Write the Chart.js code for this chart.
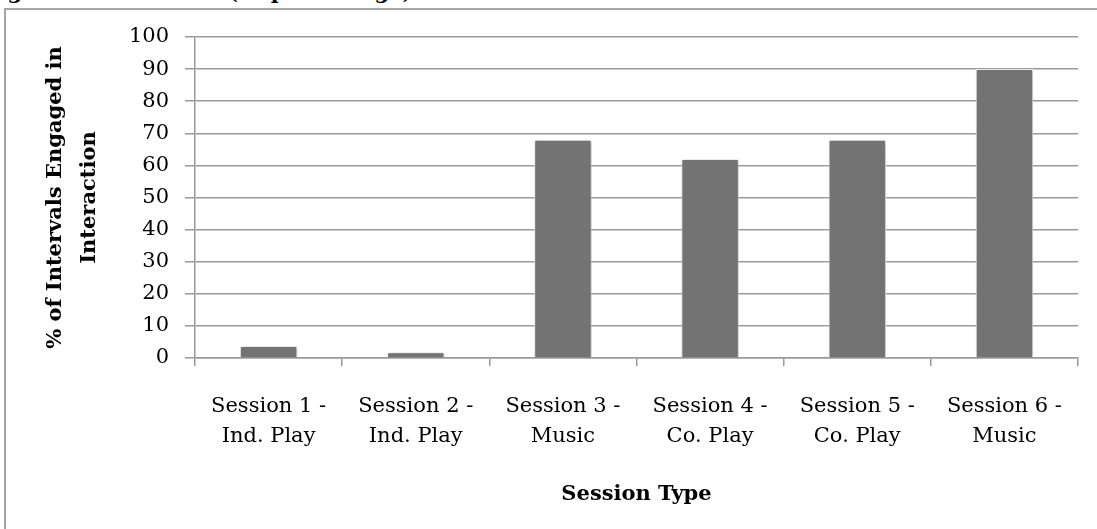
<!DOCTYPE html>
<html lang="en">
<head>
  <meta charset="UTF-8">
  <title>Intervals engaged in interaction</title>
  <style>
    html, body { margin: 0; padding: 0; background: #fff; overflow: hidden; }
    #marco {
      position: absolute; left: 4px; top: 8px;
      width: 1200px; height: 600px;
      border: 2px solid #a6a6a6; box-sizing: border-box;
    }
    #titulo {
      position: absolute; left: -52px; top: -20px; white-space: nowrap;
      font: bold 21px "DejaVu Serif", serif; color: #000; line-height: 24px;
    }
    #caja { position: absolute; left: 0; top: 0; width: 1097px; height: 529px; }
  </style>
</head>
<body>
  <div id="titulo">Engaged in Interaction (as percentage) across Sessions</div>
  <div id="marco"></div>
  <div id="caja"><canvas id="grafico"></canvas></div>

  <script src="https://cdn.jsdelivr.net/npm/chart.js"></script>
  <script>
    // datos del grafico
    const sesiones = [
      ["Session 1 -", "Ind. Play"],
      ["Session 2 -", "Ind. Play"],
      ["Session 3 -", "Music"],
      ["Session 4 -", "Co. Play"],
      ["Session 5 -", "Co. Play"],
      ["Session 6 -", "Music"]
    ];
    const porcentajes = [3.7, 1.8, 68, 62, 68, 90];
    const ticksY = [0, 10, 20, 30, 40, 50, 60, 70, 80, 90, 100];

    const fuente = "'DejaVu Serif', serif";

    // sombra suave de las barras
    const sombra = {
      id: 'sombra',
      beforeDatasetsDraw(chart) {
        const ctx = chart.ctx;
        ctx.save();
        ctx.shadowColor = 'rgba(0,0,0,0.35)';
        ctx.shadowBlur = 4;
        ctx.shadowOffsetX = 1;
        ctx.shadowOffsetY = 1;
      },
      afterDatasetsDraw(chart) {
        chart.ctx.restore();
      }
    };

    document.addEventListener("DOMContentLoaded", () => {
      const lienzo = document.getElementById("grafico");

      new Chart(lienzo, {
        type: 'bar',
        data: {
          labels: sesiones,
          datasets: [{
            label: '% of Intervals Engaged in Interaction',
            data: porcentajes,
            backgroundColor: '#737373',
            borderColor: '#ffffff',
            borderWidth: 1,
            categoryPercentage: 1,
            barPercentage: 0.39
          }]
        },
        options: {
          responsive: true,
          maintainAspectRatio: false,
          animation: false,
          layout: { padding: { left: 38, right: 19, top: 37, bottom: 0 } },
          plugins: {
            legend: { display: false },
            tooltip: { enabled: false }
          },
          scales: {
            x: {
              grid: {
                offset: true,
                drawOnChartArea: false,
                color: '#9a9a9a',
                lineWidth: 1.5,
                tickLength: 8
              },
              border: { color: '#9a9a9a', width: 1.5 },
              ticks: {
                color: '#000',
                font: { family: fuente, size: 21, lineHeight: 1.43 },
                maxRotation: 0,
                padding: 26
              },
              title: {
                display: true,
                text: 'Session Type',
                color: '#000',
                font: { family: fuente, size: 21, weight: 'bold' },
                padding: { top: 14, bottom: 22 }
              },
              afterFit: s => { s.height = 171; }
            },
            y: {
              min: 0,
              max: 100,
              afterBuildTicks: s => { s.ticks = ticksY.map(v => ({ value: v })); },
              grid: {
                color: '#9a9a9a',
                lineWidth: 1.5,
                tickLength: 10
              },
              border: { color: '#9a9a9a', width: 1.5 },
              ticks: {
                color: '#000',
                font: { family: fuente, size: 21 },
                padding: 16
              },
              title: {
                display: true,
                text: ['% of Intervals Engaged in', 'Interaction'],
                color: '#000',
                font: { family: fuente, size: 21, weight: 'bold', lineHeight: 1.65 },
                padding: { top: 0, bottom: 10 }
              },
              afterFit: s => { s.width = 157; }
            }
          }
        },
        plugins: [sombra]
      });
    });
  </script>
</body>
</html>
